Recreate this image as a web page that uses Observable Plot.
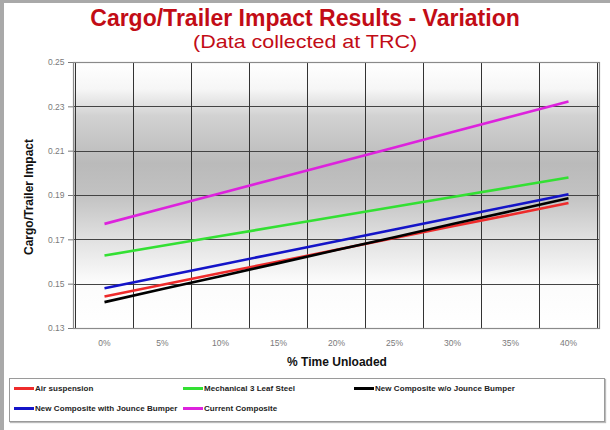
<!DOCTYPE html>
<html>
<head>
<meta charset="utf-8">
<script src="https://cdn.jsdelivr.net/npm/d3@7"></script>
<script src="https://cdn.jsdelivr.net/npm/@observablehq/plot@0.6"></script>
<style>
  html, body { margin: 0; padding: 0; background: #fff; }
  #wrap { position: relative; width: 610px; height: 430px; overflow: hidden; background: #fff;
          font-family: "Liberation Sans", Arial, sans-serif; }
  #edgeL { position: absolute; left: 0; top: 0; width: 4px; height: 430px; background: #a9a9a9; }
  #edgeT { position: absolute; left: 0; top: 0; width: 610px; height: 3px; background: #a9a9a9; }
  #title { position: absolute; top: 5px; left: 0; width: 610px; text-align: center; color: #c20c16;
           font-weight: bold; font-size: 23px; line-height: 26px; }
  #subtitle { position: absolute; top: 31px; left: 0; width: 610px; text-align: center; color: #c20c16;
              font-size: 19px; line-height: 22px; }
  #subtitle span { display: inline-block; transform: scaleX(1.13); }
  #chart { position: absolute; left: 0; top: 0; }
  #ytitle { position: absolute; left: 29px; top: 197px; transform: translate(-50%, -50%) rotate(-90deg);
            font-weight: bold; font-size: 12px; color: #111; white-space: nowrap; }
  #xtitle { position: absolute; left: 337px; top: 355px; transform: translateX(-50%);
            font-weight: bold; font-size: 12px; color: #111; white-space: nowrap; }
  #legend { position: absolute; left: 9px; top: 378px; width: 594px; height: 42px; border: 1px solid #9a9a9a;
            box-shadow: 1px 1px 1px #bbb; background: #fff; }
  .item { position: absolute; display: flex; align-items: center; font-weight: bold; font-size: 8px;
          letter-spacing: 0.05px; color: #222; white-space: nowrap; }
  .sw { width: 20px; height: 3px; margin-right: 1px; }
</style>
</head>
<body>
<div id="wrap">
  <div id="edgeL"></div><div id="edgeT"></div>
  <div id="title">Cargo/Trailer Impact Results - Variation</div>
  <div id="subtitle"><span>(Data collected at TRC)</span></div>
  <div id="chart"></div>
  <div id="ytitle">Cargo/Trailer Impact</div>
  <div id="xtitle">% Time Unloaded</div>
  <div id="legend"></div>
</div>
<script>
const categories = ["0%", "5%", "10%", "15%", "20%", "25%", "30%", "35%", "40%"];
const yTicks = [0.13, 0.15, 0.17, 0.19, 0.21, 0.23, 0.25];
const seriesNames = [
  "Air suspension",
  "Mechanical 3 Leaf Steel",
  "New Composite w/o Jounce Bumper",
  "New Composite with Jounce Bumper",
  "Current Composite"
];
const seriesColors = ["#ee2b2b", "#33e033", "#000000", "#1414c8", "#dd22dd"];
const airSuspension     = [0.1444, 0.1497, 0.1550, 0.1602, 0.1655, 0.1708, 0.1761, 0.1813, 0.1866];
const mechanicalLeaf    = [0.1629, 0.1673, 0.1717, 0.1761, 0.1805, 0.1849, 0.1893, 0.1937, 0.1981];
const compositeNoJounce = [0.1419, 0.1478, 0.1536, 0.1595, 0.1654, 0.1712, 0.1771, 0.1829, 0.1888];
const compositeJounce   = [0.1482, 0.1535, 0.1588, 0.1641, 0.1694, 0.1747, 0.1800, 0.1853, 0.1906];
const currentComposite  = [0.1772, 0.1841, 0.1910, 0.1979, 0.2048, 0.2117, 0.2186, 0.2255, 0.2324];
const seriesValues = [airSuspension, mechanicalLeaf, compositeNoJounce, compositeJounce, currentComposite];

const rows = [];
seriesNames.forEach((name, i) => {
  categories.forEach((c, j) => rows.push({series: name, cat: c, value: seriesValues[i][j]}));
});

const lineMarks = seriesNames.map((name, i) =>
  Plot.line(rows.filter(d => d.series === name), {
    x: "cat", y: "value", stroke: seriesColors[i], strokeWidth: 2.6, strokeLinecap: "butt"
  })
);

// vertical gridlines at band boundaries, positioned through the x band scale
const bandGrid = (index, scales, values, dims) => {
  const g = d3.create("svg:g");
  const x = scales.x, y = scales.y;
  const step = x(categories[1]) - x(categories[0]);
  const xs = categories.map(c => x(c)).concat([x(categories[categories.length - 1]) + step]);
  const yTop = y(yTicks[yTicks.length - 1]), yBot = y(yTicks[0]);
  xs.forEach(px => {
    const cx = Math.round(px) + 0.5;
    g.append("line").attr("x1", cx).attr("x2", cx).attr("y1", yTop).attr("y2", yBot)
      .attr("stroke", "#333").attr("stroke-width", 1).attr("shape-rendering", "crispEdges");
  });
  return g.node();
};

const plot = Plot.plot({
  width: 610,
  height: 375,
  marginTop: 62,
  marginBottom: 47,
  marginLeft: 73,
  marginRight: 11,
  style: {fontFamily: "'Liberation Sans', Arial, sans-serif", fontSize: "8.5px", color: "#7a7a7a", background: "transparent", overflow: "visible"},
  x: {type: "band", domain: categories, padding: 0, tickSize: 0, tickPadding: 11, label: null},
  y: {domain: [yTicks[0], yTicks[yTicks.length - 1]], ticks: yTicks, tickFormat: d3.format(".2f"), tickSize: 5, tickPadding: 4, label: null},
  marks: [
    Plot.frame({fill: "url(#bggrad)", stroke: "none"}),
    Plot.ruleY(yTicks, {stroke: "#444", strokeWidth: 1, shapeRendering: "crispEdges"}),
    bandGrid,
    ...lineMarks,
    Plot.frame({stroke: "#8a8a8a", strokeWidth: 1.2})
  ]
});

const defs = d3.select(plot).insert("defs", ":first-child");
const grad = defs.append("linearGradient").attr("id", "bggrad").attr("x1", 0).attr("y1", 0).attr("x2", 0).attr("y2", 1);
[[0, "#ffffff"], [0.1, "#f6f6f6"], [0.2, "#d2d2d2"], [0.38, "#bababa"], [0.5, "#c2c2c2"], [0.66, "#e0e0e0"], [0.82, "#fbfbfb"], [1, "#ffffff"]]
  .forEach(([o, c]) => grad.append("stop").attr("offset", o).attr("stop-color", c));

document.getElementById("chart").appendChild(plot);

const legendPos = [[4, 9], [173, 9], [344, 9], [4, 29], [173, 29]];
const legend = document.getElementById("legend");
seriesNames.forEach((name, i) => {
  const it = document.createElement("div");
  it.className = "item";
  it.style.left = legendPos[i][0] + "px";
  it.style.top = legendPos[i][1] - 4 + "px";
  const sw = document.createElement("div");
  sw.className = "sw";
  sw.style.background = seriesColors[i];
  const tx = document.createElement("span");
  tx.textContent = name;
  it.appendChild(sw); it.appendChild(tx);
  legend.appendChild(it);
});
</script>
</body>
</html>
